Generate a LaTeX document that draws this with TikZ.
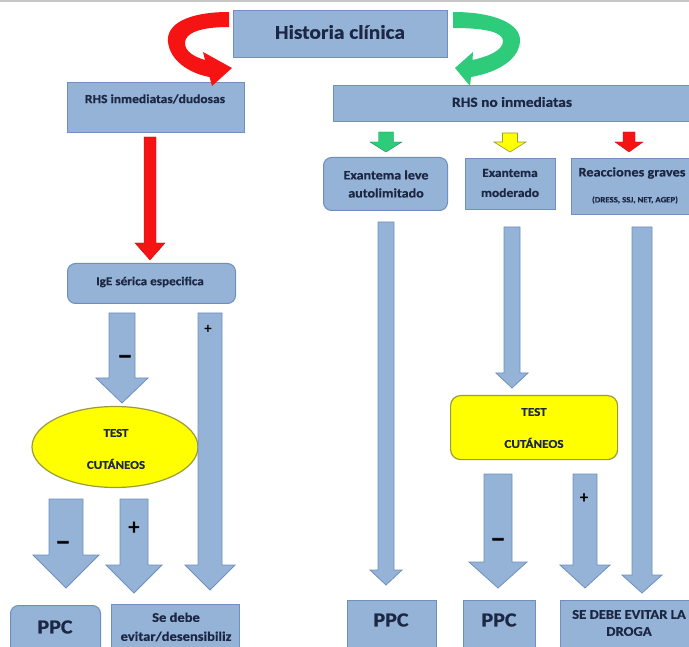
\documentclass[tikz,border=0pt]{standalone}
\usepackage{fontspec}
\setmainfont{Carlito}[FakeStretch=1.1,BoldFeatures={FakeBold=0.6}]
\newfontfamily\signfont{Carlito}[BoldFont=*,BoldFeatures={FakeBold=2.5}]
\usetikzlibrary{shapes.geometric,calc}
\definecolor{boxfill}{HTML}{95B3D7}
\definecolor{boxline}{HTML}{6F8FBF}
\definecolor{txtc}{HTML}{1C2744}
\definecolor{yel}{HTML}{FFFF00}
\definecolor{yelline}{HTML}{9B9B3B}
\definecolor{redc}{HTML}{F51313}
\definecolor{greenc}{HTML}{2ECC7A}
\newcommand\fsz[2]{\fontsize{#1}{#2}\selectfont}
\newcommand\blockarr[6]{%
  \path[#1] let \p1=(#2), \p2=(#3) in
    (\x1-#4pt,\y1) -- (\x1+#4pt,\y1) -- (\x1+#4pt,\y2+#6pt) -- (\x1+#5pt,\y2+#6pt)
    -- (\x1,\y2) -- (\x1-#5pt,\y2+#6pt) -- (\x1-#4pt,\y2+#6pt) -- cycle;}
\begin{document}
\begin{tikzpicture}[x=1pt,y=-1pt,
  box/.style={rectangle,draw=boxline,fill=boxfill,line width=1pt,inner sep=0pt,anchor=north west},
  rbox/.style={box,rounded corners=8pt},
  ybox/.style={rectangle,rounded corners=10pt,draw=yelline,fill=yel,line width=1.2pt,inner sep=0pt,anchor=north west},
  txt/.style={inner sep=0pt,text=txtc,font=\bfseries,align=center},
  blue arr/.style={fill=boxfill,draw=boxline,line width=0.8pt},
  red arr/.style={fill=redc,draw=redc!80!black,line width=0.4pt},
  green arr/.style={fill=greenc,draw=greenc!70!black,line width=0.4pt},
  yellow arr/.style={fill=yel,draw=yelline,line width=0.6pt},
  sign/.style={inner sep=0pt,text=black}]
\useasboundingbox (0,0) rectangle (689,647);
\clip (0,0) rectangle (689,647);
\fill[white] (0,0) rectangle (689,647);
\fill[gray!45] (0,0) rectangle (689,2.5);

% boxes
\node[box,minimum width=214,minimum height=47] (hist) at (233,10) {};
\node[txt,font=\bfseries\fsz{19.5}{24}] (histT) at (340,32) {Historia clínica};

\node[box,minimum width=177,minimum height=50] (rhsI) at (67,82) {};
\node[txt,font=\bfseries\fsz{12.3}{15}] (rhsIT) at (155,99) {RHS inmediatas/dudosas};

\node[box,minimum width=370,minimum height=36] (rhsN) at (333,85) {};
\node[txt,font=\bfseries\fsz{14}{16}] (rhsNT) at (512,102) {RHS no inmediatas};

\node[rbox,minimum width=124,minimum height=53] (ex1) at (323,157) {};
\node[txt,font=\bfseries\fsz{12.8}{18}] (ex1T) at (386,184) {Exantema leve\\autolimitado};

\node[box,minimum width=90,minimum height=51] (ex2) at (465,158) {};
\node[txt,font=\bfseries\fsz{12.3}{20}] (ex2T) at (510,183) {Exantema\\moderado};

\node[box,minimum width=130,minimum height=56] (ex3) at (571,158) {};
\node[txt,font=\bfseries\fsz{13}{14}] (ex3T) at (632,173) {Reacciones graves};
\node[txt,font=\bfseries\fsz{8}{9}] (ex3S) at (635,200) {(DRESS, SSJ, NET, AGEP)};

\node[rbox,minimum width=168,minimum height=40] (ige) at (67,263) {};
\node[txt,font=\bfseries\fsz{12}{13}] (igeT) at (150,282) {IgE sérica especifica};

\node[ellipse,draw=yelline,fill=yel,line width=1.2pt,minimum width=166,minimum height=81,inner sep=0pt] (ellL) at (115,447) {};
\node[txt,font=\bfseries\fsz{11.8}{32}] (ellT) at (116,449) {TEST\\CUTÁNEOS};

\node[ybox,minimum width=167,minimum height=64] (testR) at (450,395) {};
\node[txt,font=\bfseries\fsz{12}{32}] (testT) at (534,428) {TEST\\CUTÁNEOS};

\node[rbox,minimum width=90,minimum height=60] (ppcL) at (10,605) {};
\node[txt,font=\bfseries\fsz{20}{24}] (ppcLT) at (55,627) {PPC};

\node[box,minimum width=128,minimum height=60] (seL) at (111,604) {};
\node[txt,font=\bfseries\fsz{13.2}{19}] (seLT) at (176,627) {Se debe\\evitar/desensibiliz};

\node[box,minimum width=89,minimum height=60] (ppc1) at (347,600) {};
\node[txt,font=\bfseries\fsz{20}{24}] (ppc1T) at (391,620) {PPC};

\node[box,minimum width=72,minimum height=60] (ppc2) at (463,600) {};
\node[txt,font=\bfseries\fsz{20}{24}] (ppc2T) at (499,620) {PPC};

\node[box,minimum width=140,minimum height=60] (seR) at (560,600) {};
\node[txt,font=\bfseries\fsz{13.3}{17}] (seRT) at (629,623) {SE DEBE EVITAR LA\\DROGA};

% curved arrows
\fill[redc] (229,12) .. controls (188,12) and (166,24) .. (168,42)
  .. controls (170,60) and (188,73) .. (209.5,77) -- (212,86) -- (232,68) -- (203,52) -- (205,60)
  .. controls (195,57) and (185,52) .. (185,43) .. controls (185,33) and (200,27) .. (229,27) -- cycle;
\fill[greenc] (453,12) .. controls (495,12) and (520,24) .. (520,40)
  .. controls (520,58) and (500,72) .. (471,77) -- (470,86) -- (455,68) -- (473,52) -- (472.5,60)
  .. controls (490,56) and (503,50) .. (503,41) .. controls (503,32) and (485,28) .. (453,28) -- cycle;

% block arrow coordinates
\coordinate (a1s) at (150,137); \coordinate (a1t) at (150,260);
\coordinate (aLms) at (122,313); \coordinate (aLmt) at (122,403);
\coordinate (aLps) at (210,313); \coordinate (aLpt) at (210,590);
\coordinate (aEms) at (66,499); \coordinate (aEmt) at (66,588);
\coordinate (aEps) at (134,499); \coordinate (aEpt) at (134,593);
\coordinate (aR1s) at (386,222); \coordinate (aR1t) at (386,585);
\coordinate (aR2s) at (512,227); \coordinate (aR2t) at (512,388);
\coordinate (aR3s) at (642,227); \coordinate (aR3t) at (642,593);
\coordinate (aTms) at (498,474); \coordinate (aTmt) at (498,588);
\coordinate (aTps) at (585,474); \coordinate (aTpt) at (585,588);
\coordinate (sgs) at (386,132); \coordinate (sgt) at (386,152);
\coordinate (sys) at (510,133); \coordinate (syt) at (510,152);
\coordinate (srs) at (629,132); \coordinate (srt) at (629,152);

\blockarr{red arr}{a1s}{a1t}{6}{15}{17}
\blockarr{blue arr}{aLms}{aLmt}{13}{26}{25}
\blockarr{blue arr}{aLps}{aLpt}{12}{25}{25}
\blockarr{blue arr}{aEms}{aEmt}{17}{33}{33}
\blockarr{blue arr}{aEps}{aEpt}{14}{28}{28}
\blockarr{blue arr}{aR1s}{aR1t}{8}{16}{15}
\blockarr{blue arr}{aR2s}{aR2t}{8}{16}{15}
\blockarr{blue arr}{aR3s}{aR3t}{10}{20}{18}
\blockarr{blue arr}{aTms}{aTmt}{14}{29}{26}
\blockarr{blue arr}{aTps}{aTpt}{12}{25}{23}
\blockarr{green arr}{sgs}{sgt}{7.5}{16}{10}
\blockarr{yellow arr}{sys}{syt}{7.5}{16}{10}
\blockarr{red arr}{srs}{srt}{6}{14}{10}

% signs
\node[sign,font=\signfont\bfseries\fsz{30}{30}] (m1) at (125,360) {–};
\node[sign,font=\signfont\bfseries\fsz{14}{14}] (p1) at (208,329) {+};
\node[sign,font=\signfont\bfseries\fsz{30}{30}] (m2) at (63,546) {–};
\node[sign,font=\signfont\bfseries\fsz{22}{22}] (p2) at (134,528) {+};
\node[sign,font=\signfont\bfseries\fsz{16}{16}] (p3) at (584,498) {+};
\node[sign,font=\signfont\bfseries\fsz{30}{30}] (m3) at (498,543) {–};
\end{tikzpicture}
\end{document}
